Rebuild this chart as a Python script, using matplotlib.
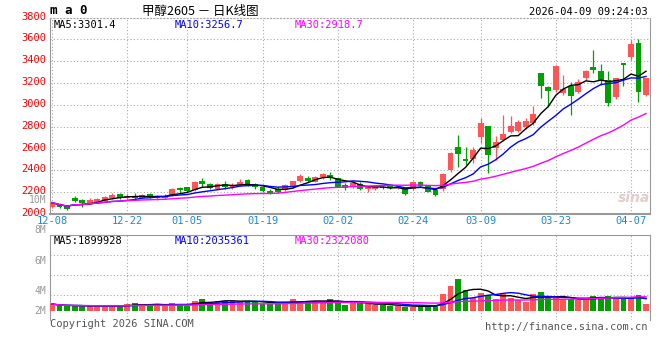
import numpy as np
import pandas as pd
import matplotlib
matplotlib.use("Agg")
import matplotlib.pyplot as plt
import matplotlib.transforms as mtransforms

# K-line data (12-08 .. 04-09)
opens = [2067, 2089, 2073, 2144, 2128, 2098, 2107, 2122, 2150, 2180,
         2150, 2165, 2150, 2180, 2144, 2144, 2174, 2236, 2245, 2220,
         2306, 2275, 2229, 2275, 2245, 2266, 2312, 2272, 2245, 2211,
         2226, 2220, 2245, 2303, 2333, 2297, 2342, 2358, 2327, 2266,
         2245, 2275, 2226, 2232, 2245, 2245, 2236, 2235, 2226, 2296,
         2257, 2220, 2225, 2404, 2617, 2507, 2502, 2709, 2807, 2603,
         2679, 2755, 2764, 2795, 2832, 3296, 3159, 3138, 3107, 3174,
         3113, 3250, 3346, 3306, 3223, 3070, 3382, 3438, 3566, 3089]
closes = [2104, 2067, 2046, 2119, 2098, 2128, 2138, 2159, 2174, 2150,
          2165, 2150, 2174, 2153, 2165, 2165, 2226, 2220, 2214, 2294,
          2272, 2241, 2275, 2251, 2266, 2297, 2266, 2251, 2211, 2196,
          2205, 2266, 2303, 2351, 2306, 2342, 2364, 2327, 2251, 2236,
          2287, 2226, 2250, 2241, 2236, 2238, 2245, 2183, 2296, 2257,
          2205, 2174, 2367, 2557, 2550, 2489, 2587, 2832, 2541, 2663,
          2734, 2807, 2844, 2856, 2917, 3174, 3131, 3358, 3144, 3085,
          3205, 3306, 3315, 3223, 3015, 3245, 3367, 3560, 3122, 3245]
highs = [2108, 2104, 2078, 2161, 2135, 2150, 2144, 2167, 2196, 2196,
         2180, 2196, 2180, 2196, 2174, 2180, 2236, 2251, 2251, 2306,
         2327, 2287, 2281, 2303, 2281, 2318, 2318, 2287, 2251, 2226,
         2245, 2272, 2306, 2364, 2351, 2351, 2373, 2388, 2330, 2281,
         2294, 2290, 2255, 2251, 2255, 2251, 2255, 2240, 2300, 2303,
         2262, 2226, 2375, 2572, 2725, 2617, 2617, 2878, 2807, 2716,
         2908, 2899, 2865, 2878, 2991, 3296, 3174, 3367, 3275, 3205,
         3235, 3315, 3505, 3376, 3306, 3245, 3382, 3596, 3603, 3245]
lows = [2052, 2052, 2040, 2106, 2067, 2089, 2098, 2115, 2138, 2138,
        2140, 2131, 2144, 2144, 2128, 2135, 2165, 2196, 2205, 2214,
        2251, 2226, 2220, 2229, 2226, 2260, 2260, 2226, 2205, 2180,
        2196, 2214, 2236, 2294, 2294, 2290, 2318, 2312, 2245, 2220,
        2236, 2220, 2205, 2220, 2226, 2229, 2226, 2178, 2220, 2250,
        2200, 2165, 2215, 2388, 2434, 2450, 2465, 2649, 2373, 2495,
        2670, 2740, 2755, 2780, 2817, 3061, 2979, 3119, 3092, 2908,
        3107, 3223, 3291, 3183, 2991, 3052, 3168, 3413, 3030, 3080]
# volume in millions
volumes = [1.12, 0.80, 0.80, 0.80, 0.80, 0.80, 0.80, 0.80, 0.80, 0.80,
           1.12, 1.23, 1.12, 0.80, 1.12, 0.80, 1.33, 1.12, 0.80, 1.60,
           1.92, 1.44, 1.60, 1.60, 1.60, 1.60, 1.60, 1.44, 1.12, 1.12,
           1.12, 1.44, 1.92, 1.60, 1.60, 1.44, 1.44, 1.92, 1.60, 0.96,
           1.23, 1.23, 1.12, 0.96, 0.96, 0.80, 0.80, 0.69, 0.69, 0.80,
           0.80, 0.96, 2.72, 4.00, 5.12, 3.36, 2.03, 2.93, 2.56, 1.87,
           2.72, 2.13, 1.76, 1.49, 2.72, 3.04, 2.03, 2.03, 1.76, 1.87,
           1.76, 2.03, 2.40, 2.03, 2.40, 2.03, 2.03, 2.03, 2.56, 1.12]

date_ticks = [0, 10, 18, 28, 38, 48, 57, 67, 77]
date_labels = ["12-08", "12-22", "01-05", "01-19", "02-02", "02-24", "03-09", "03-23", "04-07"]
price_ticks = [2000, 2200, 2400, 2600, 2800, 3000, 3200, 3400, 3600, 3800]
vol_labels = ["10M", "8M", "6M", "4M", "2M"]
vol_label_y = [200, 230, 261, 291, 311]   # pixel rows, as drawn by sina
vol_grid = [2.56, 5.76, 8.96]

ma_price_text = ["MA5:3301.4", "MA10:3256.7", "MA30:2918.7"]
ma_vol_text = ["MA5:1899928", "MA10:2035361", "MA30:2322080"]
ma_colors = ["black", "#0000ff", "#ff00ff"]

RED = "#ff5555"
GREEN = "#00a000"
GRID = "#aaaaaa"
MONO = "DejaVu Sans Mono"
FS = 7

W, H = 660, 360
fig = plt.figure(figsize=(6.6, 3.6), dpi=100)


def fx(px):
    return px / W


def fy(py):
    return 1 - py / H


o = np.array(opens, float)
c = np.array(closes, float)
hi = np.array(highs, float)
lo = np.array(lows, float)
v = np.array(volumes, float)
x = np.arange(len(c))
cols = np.where(c >= o, RED, GREEN)

# ---- price panel
ax = fig.add_axes([fx(50), fy(214), 600 / W, (214 - 17.5) / H])
ax.vlines(x, lo, hi, colors=cols, lw=0.9, zorder=3)
body = np.maximum(np.abs(c - o), 14)
ax.bar(x, body, bottom=np.minimum(o, c), width=0.78, color=cols, lw=0, zorder=3)

for n, col in zip([5, 10, 30], ma_colors):
    ma = pd.Series(c).rolling(n, min_periods=1).mean()
    ax.plot(x, ma, color=col, lw=1, zorder=4)

ax.set_xlim(-0.27, 79.53)
ax.set_ylim(2000, 3800)
ax.set_yticks(price_ticks)
ax.set_yticklabels([str(t) for t in price_ticks], color="red", family=MONO, fontsize=FS + 0.5)
ax.set_xticks(date_ticks)
ax.set_xticklabels(date_labels, color="#1a8ad4", family=MONO, fontsize=FS + 0.5)
ax.tick_params(length=0, pad=3)
ax.tick_params(axis="x", pad=1.5)
up2 = mtransforms.ScaledTranslation(0, 2 / 100, fig.dpi_scale_trans)
for lab in ax.get_yticklabels():
    lab.set_transform(lab.get_transform() + up2)
ax.grid(True, color=GRID, lw=0.8, ls=(0, (1, 2)))
for s in ["left", "right", "bottom"]:
    ax.spines[s].set_color("#999999")
ax.spines["bottom"].set_linewidth(1.5)
ax.spines["top"].set_color(GRID)
ax.spines["top"].set_linestyle((0, (1, 2)))

for txt, col, px in zip(ma_price_text, ma_colors, [54, 175, 295]):
    fig.text(fx(px), fy(25), txt, color=col, family=MONO, fontsize=FS + 0.5, va="center")

# ---- volume panel
vax = fig.add_axes([fx(50), fy(320), 600 / W, 85 / H])
vax.bar(x, v, width=0.78, color=cols, lw=0, zorder=3)
for n, col in zip([5, 10, 30], ma_colors):
    vma = pd.Series(v).rolling(n, min_periods=1).mean()
    vax.plot(x, vma, color=col, lw=1, zorder=4)
vax.set_xlim(-0.27, 79.53)
vax.set_ylim(-1.44, 12.16)
vax.set_yticks(vol_grid)
vax.set_xticks(date_ticks[1:])
vax.set_yticklabels([])
vax.set_xticklabels([])
vax.tick_params(length=0)
vax.grid(True, color=GRID, lw=0.8, ls=(0, (1, 2)))
for s in ["left", "right", "top"]:
    vax.spines[s].set_color("#999999")
vax.spines["bottom"].set_visible(False)

for txt, col, px in zip(ma_vol_text, ma_colors, [54, 175, 295]):
    fig.text(fx(px), fy(241), txt, color=col, family=MONO, fontsize=FS + 0.5, va="center")
for txt, py in zip(vol_labels, vol_label_y):
    fig.text(fx(46), fy(py), txt, color="#999999", family=MONO, fontsize=FS,
             ha="right", va="center")

# ---- header / footer
fig.text(fx(50), fy(11), "m a 0", family=MONO, fontweight="bold", fontsize=9, va="center")
fig.text(fx(200), fy(11), "甲醇2605 － 日K线图", family=["Noto Sans CJK SC", "DejaVu Sans"],
         fontsize=9, ha="center", va="center")
fig.text(fx(648), fy(12), "2026-04-09 09:24:03", family=MONO, fontsize=FS + 0.5, ha="right", va="center")
fig.text(fx(50), fy(324), "Copyright 2026 SINA.COM", family=MONO, fontsize=FS + 0.5,
         color="#555555", va="center")
fig.text(fx(648), fy(327), "http://finance.sina.com.cn", family=MONO, fontsize=FS + 0.5,
         color="#555555", ha="right", va="center")
fig.text(fx(634), fy(198), "sina", family="DejaVu Sans", fontsize=10, fontstyle="italic",
         fontweight="bold", color="#e2cccc", ha="center", va="center")

fig.savefig("out.png", dpi=100, facecolor="white")
